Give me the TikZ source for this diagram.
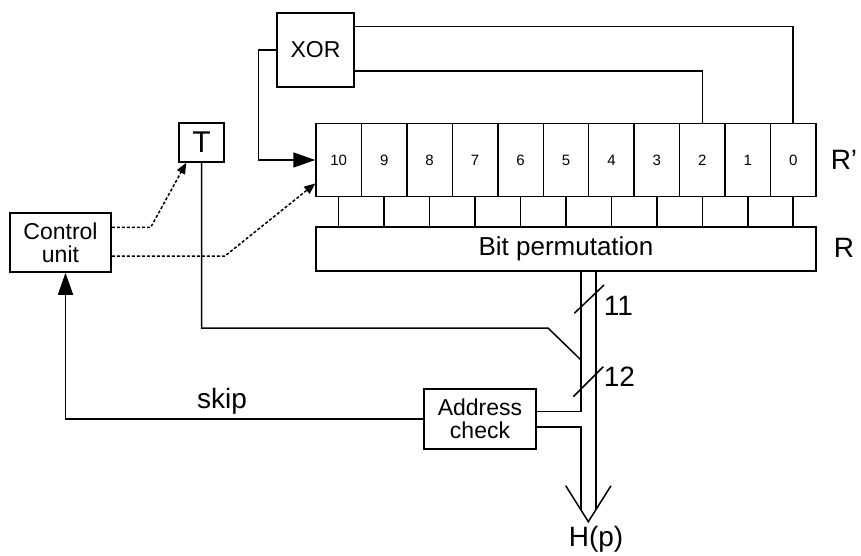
\documentclass[tikz,border=0pt]{standalone}
\usepackage{fontspec}
\setmainfont{Liberation Sans}
\usetikzlibrary{arrows.meta}
\begin{document}
\begin{tikzpicture}[x=1pt,y=-1pt,line width=1.5pt,
  box/.style={draw,inner sep=0pt,anchor=center},
  bigtxt/.style={font=\fontsize{28}{32}\selectfont,inner sep=0pt},
  midtxt/.style={font=\fontsize{23}{26}\selectfont},
  celltxt/.style={font=\fontsize{15}{17}\selectfont},
  dotline/.style={dash pattern=on 3pt off 2pt,line width=1.5pt},
  bigtip/.style={-{Triangle[length=22pt,width=15pt]}},
  smalltip/.style={-{Triangle[length=11pt,width=9pt]}}]
\useasboundingbox (0,0) rectangle (861,555);

% XOR box
\node[box,minimum width=77pt,minimum height=74pt,midtxt] (xor) at (315.5,50) {XOR};

% register cells
\foreach \n [count=\k from 0] in {10,9,8,7,6,5,4,3,2,1,0} {
  \node[box,minimum width=45.45pt,minimum height=73.4pt,celltxt]
    (c\n) at ({316+45.45*(\k+0.5)},160) {\n};
}
% Bit permutation
\node[box,minimum width=500pt,minimum height=44pt,font=\fontsize{26}{30}\selectfont] (bp) at (566,249) {Bit permutation};
\foreach \n in {10,9,8,7,6,5,4,3,2,1,0} {
  \draw (c\n.south) -- (c\n.south |- bp.north);
}

% T box
\node[box,minimum width=45pt,minimum height=39pt,font=\fontsize{30}{34}\selectfont] (tbox) at (201.5,142.5) {T};
% Control unit
\node[box,minimum width=101pt,minimum height=59pt,midtxt,align=center] (ctrl) at (60.5,242.5) {Control\\[-3pt]unit};
% Address check
\node[box,minimum width=112pt,minimum height=60pt,midtxt,align=center] (addr) at (480,419) {Address\\[-3pt]check};

% labels
\node[bigtxt,anchor=west] (rp) at (830,160) {R’};
\node[bigtxt,anchor=west] (rr) at (833,248) {R};
\node[bigtxt,anchor=west] (l11) at (603,306) {11};
\node[bigtxt,anchor=west] (l12) at (603,377) {12};
\node[bigtxt] (skip) at (222,401) {skip};
\node[bigtxt] (hp) at (596,539) {H(p)};

% XOR feedback
\draw ([yshift=23.3pt]xor.east) -| (c0.north);
\draw ([yshift=-21pt]xor.east) -| (c2.north);
\draw[bigtip] (xor.west) -- ++(-18,0) |- (c10.west);

% dotted control lines
\coordinate (d1) at (150.7,227.3);
\coordinate (d2) at (225,256);
\draw[dotline,smalltip] ([yshift=15.2pt]ctrl.east) -- (d1) -- ([xshift=8pt]tbox.south west);
\draw[dotline,smalltip] ([yshift=-13.5pt]ctrl.east) -- (d2) -- ([yshift=14pt]c10.south west);

% T line
\coordinate (tb) at (548,328);
\coordinate (tj) at (581,360);
\draw (tbox.south) |- (tb) -- (tj);

% bus
\coordinate (bl0) at (581,271);
\coordinate (bl1) at (581,411.3);
\coordinate (bl2) at (581,427);
\coordinate (bl3) at (581,510);
\coordinate (br0) at (596,271);
\coordinate (br3) at (596,510);
\draw (bl0) -- (bl1) -- (bl1 -| addr.east);
\draw (bl2 -| addr.east) -- (bl2) -- (bl3);
\draw (br0) -- (br3);
\coordinate (wl) at (565.7,485.7);
\coordinate (tip) at (588.3,521.7);
\coordinate (wr) at (611,485.7);
\draw[line join=miter] (wl) -- (tip) -- (wr);

% slashes
\coordinate (s1a) at (574.3,313.3);
\coordinate (s1b) at (604,285);
\coordinate (s2a) at (573.3,396.7);
\coordinate (s2b) at (603.3,366.7);
\draw (s1a) -- (s1b);
\draw (s2a) -- (s2b);

% skip line
\draw[bigtip] (addr.west) -| ([xshift=5pt]ctrl.south);
\end{tikzpicture}
\end{document}
